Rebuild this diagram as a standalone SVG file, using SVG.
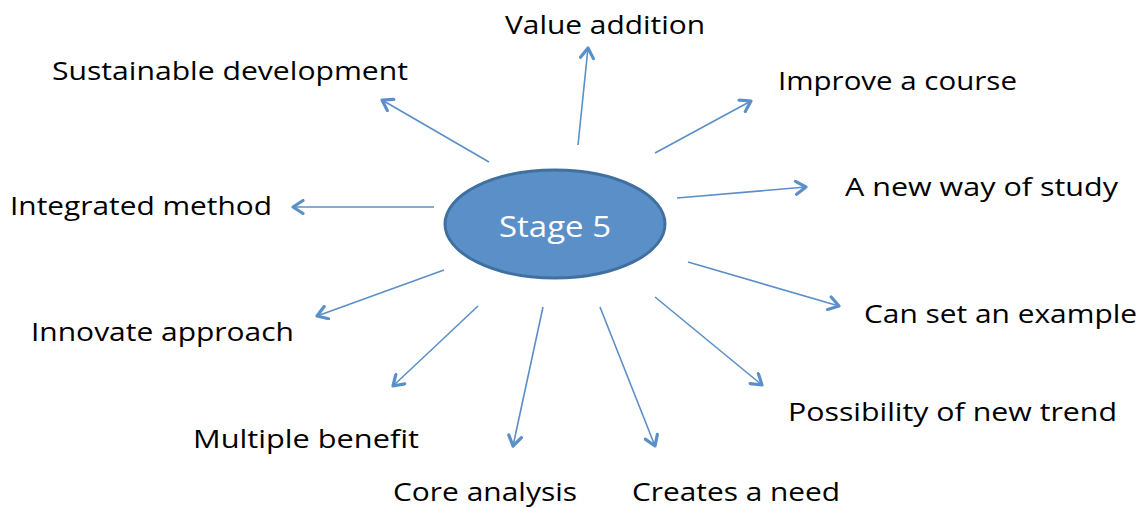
<svg xmlns="http://www.w3.org/2000/svg" width="1142" height="508" viewBox="0 0 1142 508">
  <style>
    .lbl { font-family: "Open Sans", "Liberation Sans", sans-serif; font-size: 26px; fill: #000; }
    .hub-text { font-family: "Open Sans", "Liberation Sans", sans-serif; font-size: 29px; fill: #fff; }
    .spoke { stroke: #5b8fc7; stroke-width: 1.6; fill: none; marker-end: url(#chev); }
  </style>
  <defs>
    <marker id="chev" viewBox="0 0 16 16" refX="13" refY="8" markerWidth="16" markerHeight="16" markerUnits="userSpaceOnUse" orient="auto">
      <path d="M3,1.5 L13,8 L3,14.5" fill="none" stroke="#5b8fc7" stroke-width="3.2" stroke-linecap="round" stroke-linejoin="round"/>
    </marker>
  </defs>
  <rect width="1142" height="508" fill="#fff"/>

  <g id="connectors">
    <line class="spoke" x1="578" y1="145" x2="588" y2="48"/>
    <line class="spoke" x1="655" y1="153" x2="751" y2="101"/>
    <line class="spoke" x1="677" y1="198" x2="806" y2="187"/>
    <line class="spoke" x1="688" y1="262" x2="839" y2="306"/>
    <line class="spoke" x1="655" y1="297" x2="762" y2="385"/>
    <line class="spoke" x1="600" y1="307" x2="655" y2="446"/>
    <line class="spoke" x1="543" y1="307" x2="513" y2="446"/>
    <line class="spoke" x1="478" y1="306" x2="393" y2="386"/>
    <line class="spoke" x1="444" y1="270" x2="317" y2="316"/>
    <line class="spoke" x1="434" y1="207" x2="293" y2="207"/>
    <line class="spoke" x1="489" y1="162" x2="382" y2="100"/>
  </g>

  <g id="stage5">
    <ellipse cx="555" cy="224" rx="110" ry="54" fill="#5b8fc8" stroke="#40709f" stroke-width="3"/>
    <text class="hub-text" x="499" y="237" textLength="112" lengthAdjust="spacingAndGlyphs">Stage 5</text>
  </g>

  <g id="value-addition"><text class="lbl" x="505" y="34" textLength="200" lengthAdjust="spacingAndGlyphs">Value addition</text></g>
  <g id="improve-course"><text class="lbl" x="778" y="90" textLength="239" lengthAdjust="spacingAndGlyphs">Improve a course</text></g>
  <g id="new-way-study"><text class="lbl" x="845" y="196" textLength="273" lengthAdjust="spacingAndGlyphs">A new way of study</text></g>
  <g id="set-example"><text class="lbl" x="864" y="323" textLength="273" lengthAdjust="spacingAndGlyphs">Can set an example</text></g>
  <g id="new-trend"><text class="lbl" x="788" y="421" textLength="329" lengthAdjust="spacingAndGlyphs">Possibility of new trend</text></g>
  <g id="creates-need"><text class="lbl" x="632" y="501" textLength="208" lengthAdjust="spacingAndGlyphs">Creates a need</text></g>
  <g id="core-analysis"><text class="lbl" x="393" y="501" textLength="184" lengthAdjust="spacingAndGlyphs">Core analysis</text></g>
  <g id="multiple-benefit"><text class="lbl" x="193" y="448" textLength="226" lengthAdjust="spacingAndGlyphs">Multiple benefit</text></g>
  <g id="innovate-approach"><text class="lbl" x="31" y="341" textLength="263" lengthAdjust="spacingAndGlyphs">Innovate approach</text></g>
  <g id="integrated-method"><text class="lbl" x="10" y="215" textLength="262" lengthAdjust="spacingAndGlyphs">Integrated method</text></g>
  <g id="sustainable-development"><text class="lbl" x="52" y="80" textLength="356" lengthAdjust="spacingAndGlyphs">Sustainable development</text></g>
</svg>
